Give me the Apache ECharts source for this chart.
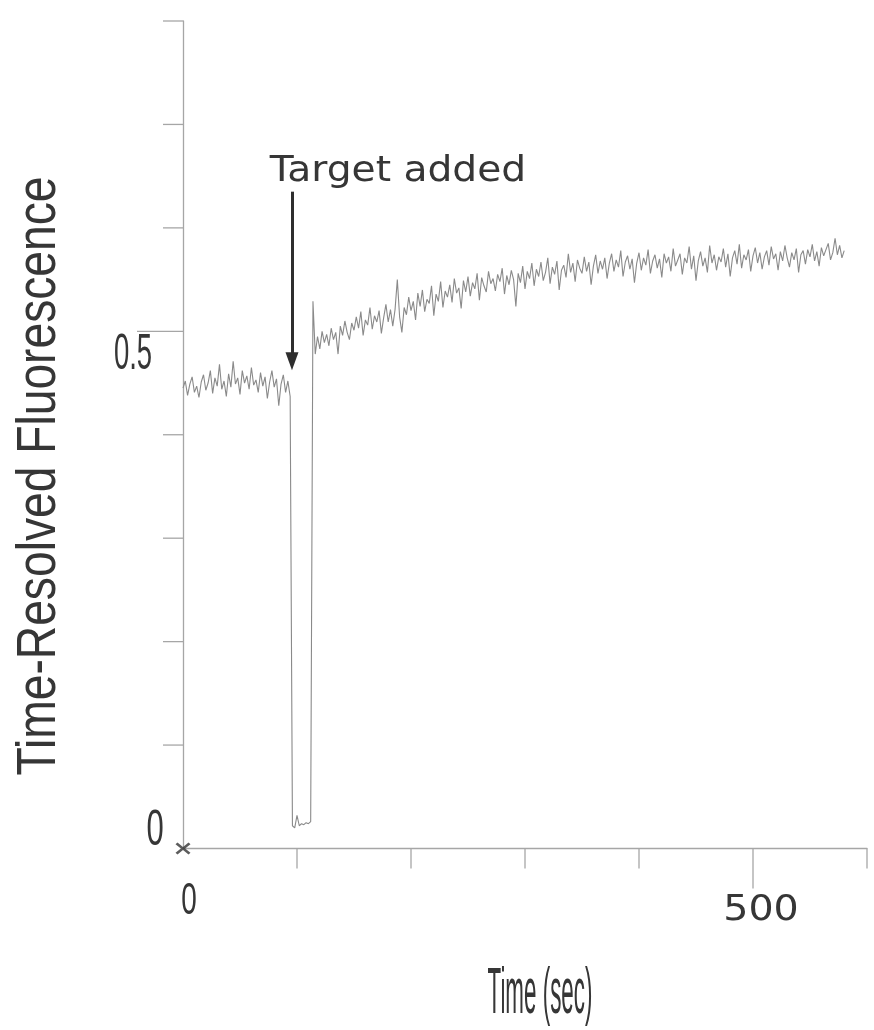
<!DOCTYPE html>
<html>
<head>
<meta charset="utf-8">
<script src="https://cdn.jsdelivr.net/npm/echarts@6/dist/echarts.min.js"></script>
<style>
html,body{margin:0;padding:0;background:#fff;}
#main{width:874px;height:1030px;}
</style>
</head>
<body>
<div id="main"></div>
<script>
// ---- data ----
const sampleStep = 2; // seconds between samples
const fluorescence = [
  // 0-94 s : baseline before target addition
  0.445,0.452,0.438,0.449,0.456,0.441,0.447,0.436,0.451,0.458,
  0.443,0.450,0.462,0.440,0.455,0.447,0.468,0.444,0.452,0.437,
  0.459,0.446,0.471,0.449,0.455,0.439,0.462,0.450,0.457,0.444,
  0.465,0.448,0.453,0.441,0.460,0.447,0.456,0.435,0.451,0.462,
  0.446,0.454,0.428,0.449,0.458,0.441,0.452,0.437,
  // 96-112 s : signal drop
  0.022,0.020,0.032,0.022,0.024,0.023,0.025,0.024,0.026,
  // 114-580 s : after target added
  0.529,0.478,0.495,0.483,0.500,0.489,0.497,0.486,0.503,0.492,
  0.499,0.478,0.505,0.496,0.510,0.499,0.492,0.508,0.501,0.514,
  0.503,0.519,0.496,0.511,0.506,0.523,0.502,0.515,0.509,0.520,
  0.498,0.513,0.526,0.509,0.521,0.505,0.521,0.550,0.514,0.499,
  0.523,0.516,0.533,0.520,0.529,0.511,0.537,0.524,0.540,0.519,
  0.531,0.527,0.544,0.515,0.536,0.529,0.548,0.523,0.539,0.533,
  0.545,0.528,0.551,0.537,0.542,0.522,0.549,0.538,0.553,0.534,
  0.547,0.541,0.556,0.530,0.552,0.544,0.538,0.558,0.546,0.551,
  0.539,0.555,0.548,0.561,0.536,0.554,0.545,0.559,0.550,0.524,
  0.556,0.547,0.563,0.541,0.558,0.551,0.566,0.544,0.560,0.553,
  0.567,0.549,0.557,0.571,0.546,0.562,0.555,0.568,0.540,0.559,
  0.564,0.552,0.575,0.557,0.566,0.548,0.569,0.561,0.556,0.572,
  0.558,0.567,0.545,0.563,0.574,0.556,0.568,0.560,0.571,0.551,
  0.566,0.575,0.558,0.569,0.562,0.578,0.553,0.567,0.573,0.560,
  0.570,0.547,0.566,0.576,0.559,0.571,0.564,0.579,0.556,0.568,
  0.574,0.561,0.570,0.552,0.575,0.566,0.572,0.558,0.580,0.563,
  0.569,0.575,0.555,0.571,0.566,0.582,0.560,0.573,0.549,0.568,
  0.577,0.563,0.571,0.557,0.583,0.566,0.574,0.559,0.572,0.567,
  0.580,0.562,0.575,0.553,0.571,0.578,0.565,0.584,0.561,0.574,
  0.569,0.579,0.558,0.573,0.581,0.566,0.576,0.560,0.572,0.578,
  0.564,0.582,0.570,0.575,0.559,0.577,0.568,0.583,0.571,0.562,
  0.576,0.569,0.580,0.557,0.574,0.578,0.565,0.579,0.572,0.584,
  0.568,0.577,0.563,0.581,0.573,0.579,0.585,0.569,0.576,0.590,
  0.574,0.583,0.571,0.578
];
const xTickValues = [100, 200, 300, 400, 600];
const xMajorTickValues = [500];
const yTickValues = [0.1, 0.2, 0.3, 0.4, 0.6, 0.7, 0.8];
const yMajorTickValues = [0.5];
const xLabelValues = [0, 500];
const xLabelTexts = ['0', '500'];
const yLabelValues = [0, 0.5];
const yLabelTexts = ['0', '0.5'];
const xTitle = 'Time (sec)';
const yTitle = 'Time-Resolved Fluorescence';
const annotationText = 'Target added';
const arrowTime = 95.6;
const arrowStart = 0.635;
const arrowEnd = 0.471;
const origin = [[0, 0]];

// ---- chart ----
const seriesData = fluorescence.map((v, i) => [i * sampleStep, v]);
const axisGray = '#a6a6a6';
const textColor = '#363636';
const narrow = '"Liberation Sans", Arial, sans-serif';

const chart = echarts.init(document.getElementById('main'), null, {renderer: 'canvas'});
const option = {
  backgroundColor: '#ffffff',
  animation: false,
  grid: {left: 183, right: 7, top: 21, bottom: 181.5, containLabel: false, outerBoundsMode: 'none'},
  xAxis: {
    type: 'value', min: 0, max: 600, interval: 100,
    axisLine: {show: true, onZero: false, lineStyle: {color: axisGray, width: 1.3}},
    axisTick: {show: false},
    axisLabel: {show: false},
    splitLine: {show: false}
  },
  yAxis: {
    type: 'value', min: 0, max: 0.8, interval: 0.1,
    axisLine: {show: true, onZero: false, lineStyle: {color: axisGray, width: 1.3}},
    axisTick: {show: false},
    axisLabel: {show: false},
    splitLine: {show: false}
  },
  series: [
    {
      type: 'line',
      data: seriesData,
      showSymbol: false,
      symbol: 'none',
      lineStyle: {color: '#8a8a8a', width: 1.1},
      z: 3,
      markLine: {
        silent: true,
        symbol: ['none', 'triangle'],
        symbolSize: [13, 18],
        lineStyle: {color: '#2e2e2e', width: 3, type: 'solid'},
        label: {show: false},
        data: [[{coord: [arrowTime, arrowStart]}, {coord: [arrowTime, arrowEnd]}]]
      }
    },
    {
      type: 'scatter',
      data: origin,
      clip: false,
      symbol: 'path://M0,1.6 L1.6,0 L6,4.1 L10.4,0 L12,1.6 L7.7,5.5 L12,9.4 L10.4,11 L6,6.9 L1.6,11 L0,9.4 L4.3,5.5 Z',
      symbolSize: [15, 12],
      itemStyle: {color: '#333333'},
      z: 5
    }
  ]
};
chart.setOption(option);

function px(x, y) { return chart.convertToPixel({xAxisIndex: 0, yAxisIndex: 0}, [x, y]); }

const graphics = [];
const tickStyle = {stroke: axisGray, lineWidth: 1.3};
// y ticks (outside, left); [value, length]
const yTicks = yTickValues.map(v => [v, 20]).concat(yMajorTickValues.map(v => [v, 46]));
yTicks.forEach(t => {
  const p = px(0, t[0]);
  graphics.push({type: 'line', z: 10, silent: true,
    shape: {x1: p[0] - t[1], y1: p[1], x2: p[0], y2: p[1]}, style: tickStyle});
});
// x ticks (outside, below)
const xTicks = xTickValues.map(v => [v, 20]).concat(xMajorTickValues.map(v => [v, 40]));
xTicks.forEach(t => {
  const p = px(t[0], 0);
  graphics.push({type: 'line', z: 10, silent: true,
    shape: {x1: p[0], y1: p[1], x2: p[0], y2: p[1] + t[1]}, style: tickStyle});
});
// y tick labels (condensed font)
const yLabelStyle = [
  {dx: -28, dy: -17, size: 50, sx: 0.62},
  {dx: -50, dy: 24, size: 50, sx: 0.55}
];
yLabelValues.forEach((v, i) => {
  const p = px(0, v);
  const s = yLabelStyle[i];
  graphics.push({
    type: 'text', x: p[0] + s.dx, y: p[1] + s.dy, scaleX: s.sx,
    style: {text: yLabelTexts[i], fill: textColor, font: s.size + 'px ' + narrow, textAlign: 'center', textVerticalAlign: 'middle'}
  });
});
// x tick labels
const xLabelStyle = [
  {dx: 6, dy: 53, font: '45px ' + narrow, sx: 0.62},
  {dx: 8, dy: 62, font: '36px "DejaVu Sans", Verdana, sans-serif', sx: 1.1}
];
xLabelValues.forEach((v, i) => {
  const p = px(v, 0);
  const s = xLabelStyle[i];
  graphics.push({
    type: 'text', x: p[0] + s.dx, y: p[1] + s.dy, scaleX: s.sx,
    style: {text: xLabelTexts[i], fill: textColor, font: s.font, textAlign: 'center', textVerticalAlign: 'middle'}
  });
});
// axis titles
graphics.push({
  type: 'text', x: 40, y: 476, rotation: Math.PI / 2, scaleX: 0.825,
  style: {text: yTitle, fill: textColor, font: '56px ' + narrow, textAlign: 'center', textVerticalAlign: 'middle'}
});
graphics.push({
  type: 'text', x: 540, y: 995, scaleX: 0.35,
  style: {text: xTitle, fill: textColor, font: '64px ' + narrow, textAlign: 'center', textVerticalAlign: 'middle'}
});
// annotation text
const aP = px(arrowTime, arrowStart);
graphics.push({
  type: 'text', x: aP[0] + 106, y: aP[1] - 20, scaleX: 1.12,
  style: {text: annotationText, fill: textColor, font: '35px "DejaVu Sans", Verdana, sans-serif', textAlign: 'center', textVerticalAlign: 'middle'}
});
chart.setOption({graphic: graphics});
</script>
</body>
</html>
